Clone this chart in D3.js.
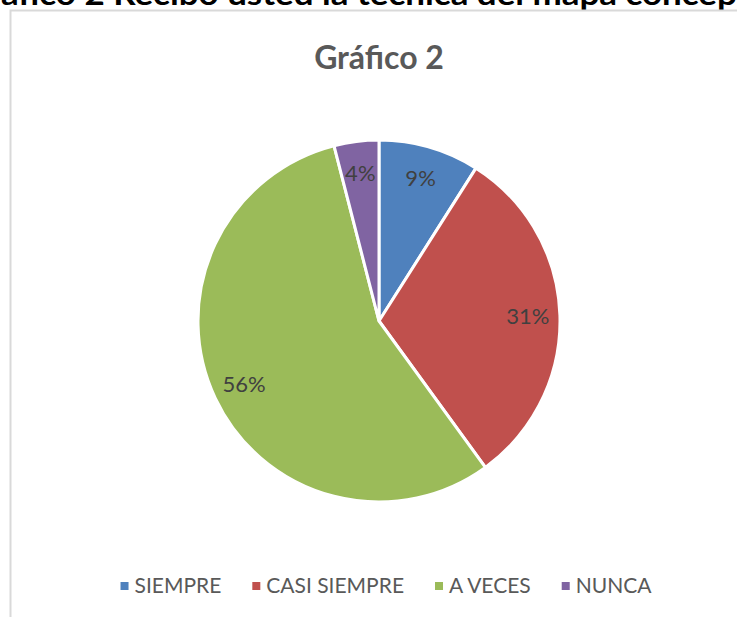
<!DOCTYPE html>
<html>
<head>
<meta charset="utf-8">
<script src="https://cdn.jsdelivr.net/npm/d3@7"></script>
<style>
  body { margin: 0; background: #fff; }
  svg { display: block; }
</style>
</head>
<body>
<div id="chart"></div>
<script>
// data
var categories = ["SIEMPRE", "CASI SIEMPRE", "A VECES", "NUNCA"];
var values = [9, 31, 56, 4];
var colors = ["#4F81BD", "#C0504D", "#9BBB59", "#8064A2"];
var chartTitle = "Gráfico 2";
var pageHeading = "Gráfico 2 Recibo usted la técnica del mapa conceptual";

var width = 737;
var height = 617;
var cx = 379, cy = 321, radius = 181;

var dataset = categories.map(function (c, i) {
    return { name: c, value: values[i], color: colors[i] };
});

var svg = d3.select("#chart").append("svg")
    .attr("width", width)
    .attr("height", height);

// heading of the document, cut by the top of the crop
var heading = svg.append("text")
    .attr("y", 5)
    .style("font-family", "Lato, 'Open Sans', sans-serif")
    .style("font-weight", "bold")
    .style("font-size", "30px")
    .style("fill", "#000")
    .text(pageHeading);
var node = heading.node();
var pre = node.getSubStringLength(0, 2);
var visibleLen = node.getSubStringLength(2, "áfico 2 Recibo usted la técnica del mapa concep".length);
var sx = 736 / visibleLen;
heading.attr("transform", "translate(" + (1 - pre * sx) + ",0) scale(" + sx + ",1)");

// chart area border
svg.append("rect")
    .attr("x", 10.5)
    .attr("y", 10.5)
    .attr("width", 900)
    .attr("height", 800)
    .style("fill", "#fff")
    .style("stroke", "#d9d9d9")
    .style("stroke-width", 2);

svg.append("text")
    .attr("x", cx)
    .attr("y", 69)
    .attr("text-anchor", "middle")
    .style("font-family", "Lato, 'Open Sans', sans-serif")
    .style("font-weight", "bold")
    .style("font-size", "32px")
    .style("fill", "#595959")
    .text(chartTitle);

var pie = d3.pie()
    .sort(null)
    .value(function (d) { return d.value; });

var arc = d3.arc()
    .innerRadius(0)
    .outerRadius(radius);

var labelArc = d3.arc()
    .innerRadius(149)
    .outerRadius(149);

var g = svg.append("g")
    .attr("transform", "translate(" + cx + "," + cy + ")");

var slices = g.selectAll(".slice")
    .data(pie(dataset))
    .enter()
    .append("g")
    .attr("class", "slice");

slices.append("path")
    .attr("d", arc)
    .style("fill", function (d) { return d.data.color; })
    .style("stroke", "#fff")
    .style("stroke-width", 3)
    .style("stroke-linejoin", "round");

slices.append("text")
    .attr("transform", function (d) { return "translate(" + labelArc.centroid(d) + ")"; })
    .attr("text-anchor", "middle")
    .attr("dy", "0.36em")
    .style("font-family", "Lato, 'Open Sans', sans-serif")
    .style("font-size", "22px")
    .style("fill", "#404040")
    .text(function (d) { return d.data.value + "%"; });

// legend, laid out from measured text widths
var legend = svg.append("g").attr("class", "legend");
var lx = 0;
dataset.forEach(function (d) {
    var item = legend.append("g");
    item.append("rect")
        .attr("x", 0)
        .attr("y", -11)
        .attr("width", 8)
        .attr("height", 8)
        .style("fill", d.color);
    var t = item.append("text")
        .attr("x", 14)
        .attr("y", 0)
        .style("font-family", "Lato, 'Open Sans', sans-serif")
        .style("font-size", "21px")
        .style("fill", "#595959")
        .text(d.name);
    item.attr("transform", "translate(" + lx + ",0)");
    lx += 14 + t.node().getComputedTextLength() + 31;
});
var total = lx - 31;
legend.attr("transform", "translate(" + (386 - total / 2) + ",593)");
</script>
</body>
</html>
